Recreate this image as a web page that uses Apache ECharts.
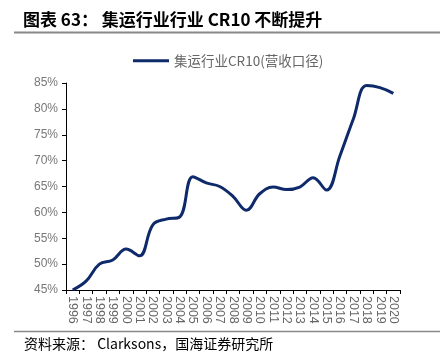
<!DOCTYPE html>
<html><head><meta charset="utf-8">
<script src="https://cdn.jsdelivr.net/npm/echarts@6/dist/echarts.min.js"></script>
<style>html,body{margin:0;padding:0;background:#fff}#c{width:440px;height:363px}</style>
</head><body><div id="c"></div>
<script>
const years = ['1996','1997','1998','1999','2000','2001','2002','2003','2004','2005','2006','2007','2008','2009','2010','2011','2012','2013','2014','2015','2016','2017','2018','2019','2020'];
const cr10 = [45.0,46.7,50.0,50.8,52.9,51.6,57.6,58.7,59.1,66.9,65.7,65.0,63.1,60.4,63.6,64.9,64.4,64.9,66.7,64.3,70.9,78.0,84.5,84.1,83.0];
const yTicks = [45,50,55,60,65,70,75,80,85];
const seriesName = '集运行业CR10(营收口径)';

const chart = echarts.init(document.getElementById('c'));
chart.setOption({
  animation:false,
  title:{text:'图表 63： 集运行业行业 CR10 不断提升',left:23,top:11,padding:0,
    textStyle:{fontFamily:'Noto Sans CJK SC',fontSize:17,fontWeight:'bold',color:'#000'}},
  graphic:[
    {type:'line',shape:{x1:14,y1:32.5,x2:440,y2:32.5},style:{stroke:'#888',lineWidth:2}},
    {type:'line',shape:{x1:14,y1:331.5,x2:440,y2:331.5},style:{stroke:'#888',lineWidth:1.5}},
    {type:'text',left:24,top:337,style:{text:'资料来源： Clarksons，国海证券研究所',font:'14px "Noto Sans CJK SC"',fill:'#000'}}
  ],
  legend:{top:49,left:128,itemWidth:36,itemHeight:3,icon:'rect',itemGap:4,
    textStyle:{fontFamily:'Noto Sans CJK SC',fontSize:13.5,color:'#666'}},
  grid:{left:66,right:40,top:83,bottom:73},
  xAxis:{type:'category',data:years,boundaryGap:true,
    axisLine:{lineStyle:{color:'#000'}},
    axisTick:{show:true,inside:false,length:4,lineStyle:{color:'#000'}},
    axisLabel:{rotate:-90,interval:0,fontFamily:'Liberation Sans',fontSize:12.5,color:'#666',margin:6}},
  yAxis:{type:'value',min:45,max:85,interval:5,
    splitLine:{show:false},
    axisLine:{show:true,lineStyle:{color:'#000'}},
    axisTick:{show:true,length:4,lineStyle:{color:'#000'}},
    axisLabel:{formatter:v=>yTicks.includes(v)?v+'%':'',fontFamily:'Liberation Sans',fontSize:12,color:'#777',margin:8}},
  series:[{name:seriesName,type:'line',data:cr10,smooth:0.4,showSymbol:false,
    lineStyle:{color:'#0f2a6a',width:3},itemStyle:{color:'#0f2a6a'}}]
});
</script></body></html>
